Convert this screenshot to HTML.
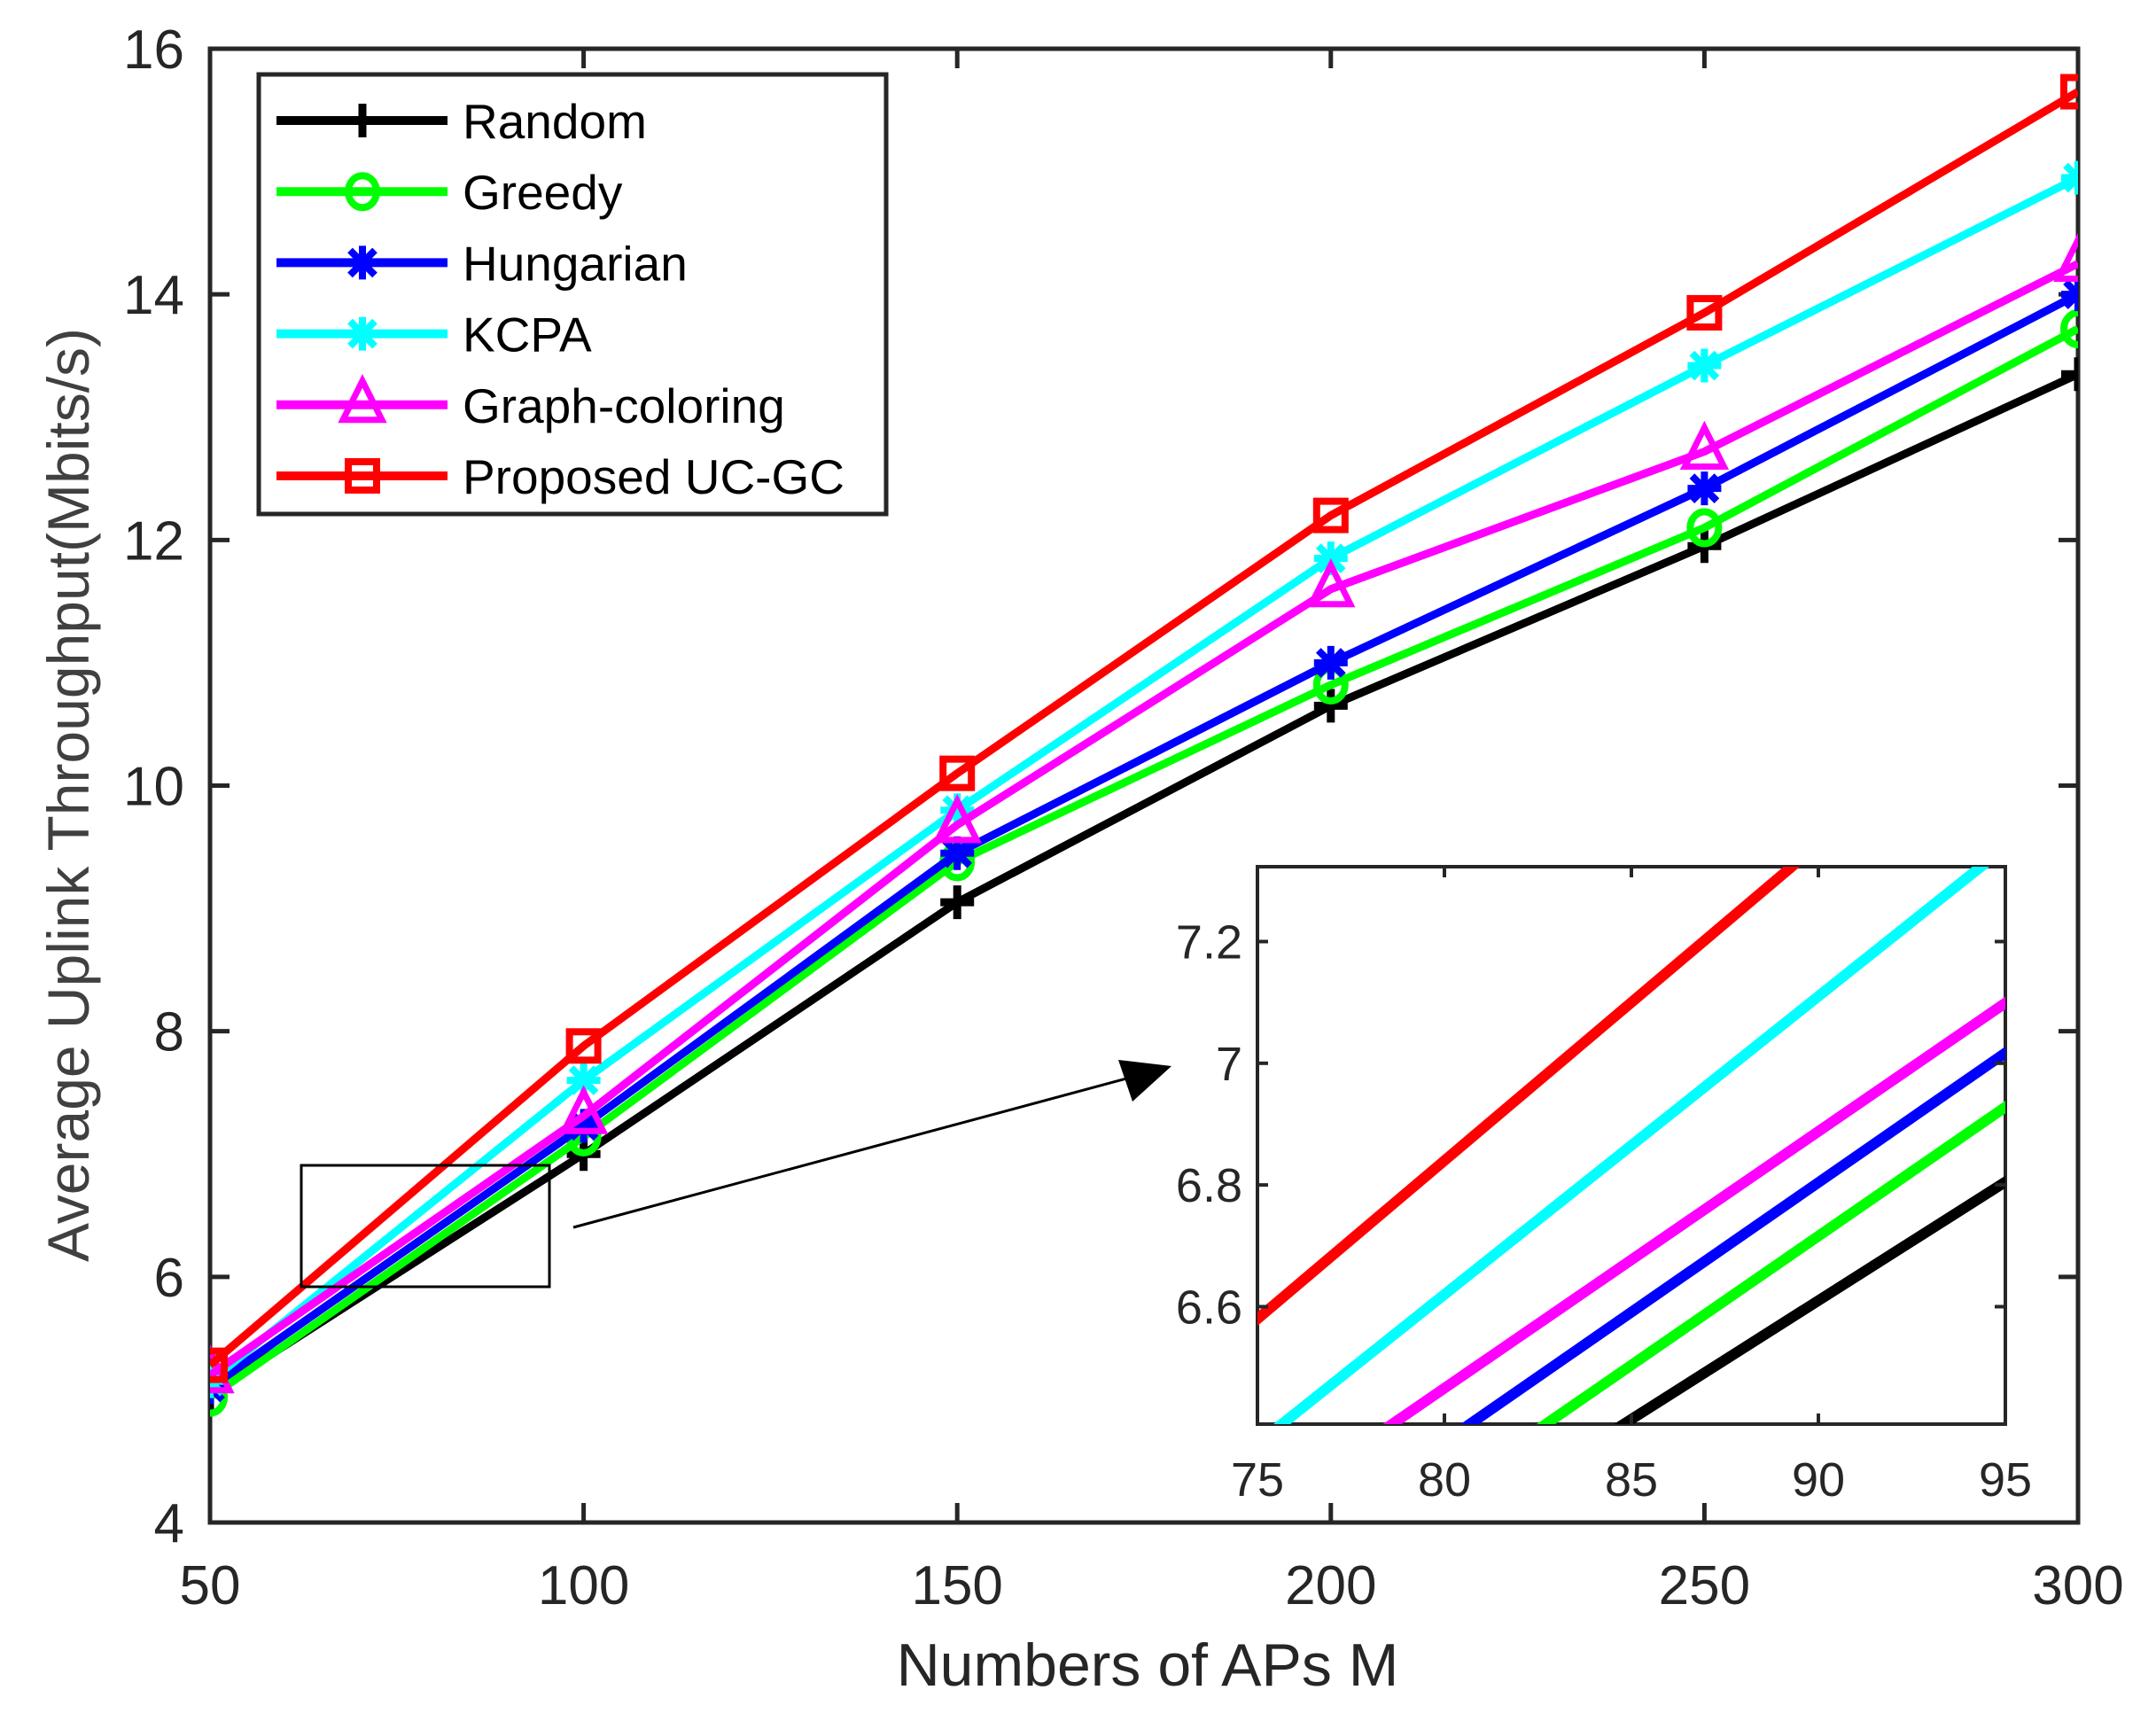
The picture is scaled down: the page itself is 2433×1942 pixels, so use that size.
<!DOCTYPE html>
<html><head><meta charset="utf-8"><style>
html,body{margin:0;padding:0;background:#fff;width:2433px;height:1942px;overflow:hidden;}
svg{display:block;font-family:"Liberation Sans",sans-serif;}
</style></head><body>
<svg id="chart" width="2433" height="1942" viewBox="0 0 2433 1942" xmlns="http://www.w3.org/2000/svg">
<defs>
<clipPath id="mainclip"><rect x="237" y="55" width="2108" height="1663"/></clipPath>
<clipPath id="insetclip"><rect x="1419" y="978" width="844" height="629"/></clipPath>
</defs>
<rect x="0" y="0" width="2433" height="1942" fill="#fff"/>
<g id="main"></g>
<g id="inset"></g>
<g id="legend"></g>
</svg>
<script>
const xValues = [50, 100, 150, 200, 250, 300];
const seriesNames = ["Random","Greedy","Hungarian","KCPA","Graph-coloring","Proposed UC-GC"];
const randomVals = [5.05, 7.0, 9.05, 10.65, 11.95, 13.35];
const greedyVals = [5.02, 7.14, 9.38, 10.82, 12.1, 13.72];
const hungarianVals = [5.1, 7.23, 9.45, 11.0, 12.42, 14.0];
const kcpaVals = [5.15, 7.6, 9.8, 11.85, 13.42, 14.95];
const graphVals = [5.2, 7.31, 9.68, 11.6, 12.72, 14.25];
const proposedVals = [5.28, 7.88, 10.1, 12.2, 13.85, 15.65];
const xTicks = [50, 100, 150, 200, 250, 300];
const yTicks = [4, 6, 8, 10, 12, 14, 16];
const insetXTicks = [75, 80, 85, 90, 95];
const insetYTicks = [6.6, 6.8, 7, 7.2];

const NS = "http://www.w3.org/2000/svg";
const allSeries = [randomVals, greedyVals, hungarianVals, kcpaVals, graphVals, proposedVals];
const colors = ["#000000","#00ff00","#0000ff","#00ffff","#ff00ff","#ff0000"];
const markers = ["plus","circle","star","star","triangle","square"];
const L=237,R=2345,T=55,B=1718;
const sx = v => L + (v-50)/250*(R-L);
const sy = v => B - (v-4)/12*(B-T);
const IL=1419,IR=2263,IT=978,IB=1607, IY0=6.407, IY1=7.323;
const ix = v => IL + (v-75)/20*(IR-IL);
const iy = v => IB - (v-IY0)/(IY1-IY0)*(IB-IT);

function mk(tag, attrs, parent){const e=document.createElementNS(NS,tag);for(const k in attrs)e.setAttribute(k,attrs[k]);parent.appendChild(e);return e;}
const main=document.getElementById('main'), inset=document.getElementById('inset'), legend=document.getElementById('legend');

function marker(type, x, y, c, parent){
  const g=mk('g',{},parent);
  
  
  const s=19, sw=7;
  if(type==='plus'){mk('path',{d:`M${x-s} ${y}H${x+s}M${x} ${y-s}V${y+s}`,stroke:c,'stroke-width':9,fill:'none'},g);}
  else if(type==='circle'){mk('ellipse',{cx:x,cy:y,rx:16,ry:18,stroke:c,'stroke-width':sw+1,fill:'none'},g);}
  else if(type==='star'){mk('path',{d:`M${x-s} ${y}H${x+s}M${x} ${y-s}V${y+s}M${x-14} ${y-14}L${x+14} ${y+14}M${x-14} ${y+14}L${x+14} ${y-14}`,stroke:c,'stroke-width':8,fill:'none'},g);}
  else if(type==='triangle'){mk('path',{d:`M${x} ${y-27}L${x+22} ${y+17}L${x-22} ${y+17}Z`,stroke:c,'stroke-width':sw,fill:'none'},g);}
  else if(type==='square'){mk('rect',{x:x-16,y:y-16,width:32,height:32,stroke:c,'stroke-width':sw+1,fill:'none'},g);}
}

const axes=mk('rect',{x:L,y:T,width:R-L,height:B-T,fill:'none',stroke:'#262626','stroke-width':5},main);


xTicks.forEach(t=>{
  const x=sx(t);
  mk('line',{x1:x,y1:B,x2:x,y2:B-22,stroke:'#262626','stroke-width':5},main);
  mk('line',{x1:x,y1:T,x2:x,y2:T+22,stroke:'#262626','stroke-width':5},main);
  const tx=mk('text',{x:x,y:1810,'text-anchor':'middle','font-size':62,fill:'#262626'},main);
  tx.textContent=t;
  
  
});
yTicks.forEach(t=>{
  const y=sy(t);
  mk('line',{x1:L,y1:y,x2:L+22,y2:y,stroke:'#262626','stroke-width':5},main);
  mk('line',{x1:R,y1:y,x2:R-22,y2:y,stroke:'#262626','stroke-width':5},main);
  const tx=mk('text',{x:208,y:y+22,'text-anchor':'end','font-size':62,fill:'#262626'},main);
  tx.textContent=t;
  
  
});
const xl=mk('text',{x:1295,y:1902,'text-anchor':'middle','font-size':68,fill:'#262626'},main);
xl.textContent='Numbers of APs M';


const yl=mk('text',{x:0,y:0,'text-anchor':'middle','font-size':66,fill:'#404040',transform:'translate(100,897) rotate(-90)'},main);
yl.textContent='Average Uplink Throughput(Mbits/s)';



const gl=mk('g',{'clip-path':'url(#mainclip)'},main);
allSeries.forEach((vals,i)=>{
  const d=vals.map((v,j)=>(j?'L':'M')+sx(xValues[j])+' '+sy(v)).join('');
  const p=mk('path',{d:d,stroke:colors[i],'stroke-width':9,fill:'none','stroke-linejoin':'round'},gl);
  
  
  vals.forEach((v,j)=>marker(markers[i],sx(xValues[j]),sy(v),colors[i],gl));
});

const zr=mk('rect',{x:340,y:1315,width:280,height:137,fill:'none',stroke:'#000','stroke-width':3},main);


const ar=mk('line',{x1:647,y1:1385,x2:1290,y2:1212,stroke:'#000','stroke-width':3},main);


const ah=mk('path',{d:'M1322 1203L1262 1196L1278 1243Z',fill:'#000'},main);



const ib=mk('rect',{x:IL,y:IT,width:IR-IL,height:IB-IT,fill:'#fff',stroke:'#262626','stroke-width':4},inset);


const gi=mk('g',{'clip-path':'url(#insetclip)'},inset);
allSeries.forEach((vals,i)=>{
  const d=vals.map((v,j)=>(j?'L':'M')+ix(xValues[j])+' '+iy(v)).join('');
  const p=mk('path',{d:d,stroke:colors[i],'stroke-width':12,fill:'none'},gi);
  
  
});
insetXTicks.forEach(t=>{
  const x=ix(t);
  mk('line',{x1:x,y1:IB,x2:x,y2:IB-12,stroke:'#262626','stroke-width':4},inset);
  mk('line',{x1:x,y1:IT,x2:x,y2:IT+12,stroke:'#262626','stroke-width':4},inset);
  const tx=mk('text',{x:x,y:1688,'text-anchor':'middle','font-size':54,fill:'#262626'},inset);
  tx.textContent=t;
  
  
});
insetYTicks.forEach(t=>{
  const y=iy(t);
  mk('line',{x1:IL,y1:y,x2:IL+12,y2:y,stroke:'#262626','stroke-width':4},inset);
  mk('line',{x1:IR,y1:y,x2:IR-12,y2:y,stroke:'#262626','stroke-width':4},inset);
  const tx=mk('text',{x:1402,y:y+19,'text-anchor':'end','font-size':54,fill:'#262626'},inset);
  tx.textContent=t;
  
  
});

const lb=mk('rect',{x:292,y:84,width:708,height:496,fill:'#fff',stroke:'#262626','stroke-width':5},legend);


seriesNames.forEach((n,i)=>{
  const y=136+i*80.2;
  const g=mk('g',{},legend);
  
  
  mk('line',{x1:312,y1:y,x2:505,y2:y,stroke:colors[i],'stroke-width':10},g);
  marker(markers[i],409,y,colors[i],g);
  const tx=mk('text',{x:522,y:y+20,'font-size':55,fill:'#000'},g);
  tx.textContent=n;
});
</script>
</body></html>
